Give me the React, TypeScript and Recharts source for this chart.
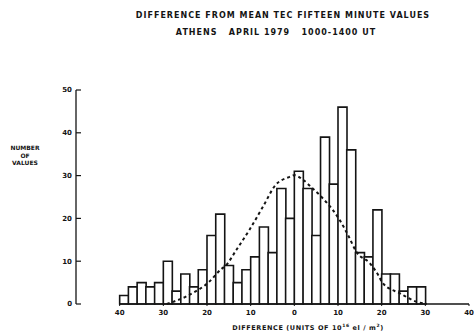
import { Bar, ComposedChart, Line, ReferenceLine, XAxis, YAxis } from "recharts";

// histogram bins (start of each 2-unit bin), -50..38 so the hidden band axis lines up with the numeric one
const binStarts = [
  -50, -48, -46, -44, -42, -40, -38, -36, -34, -32, -30, -28, -26, -24, -22,
  -20, -18, -16, -14, -12, -10, -8, -6, -4, -2, 0, 2, 4, 6, 8, 10, 12, 14, 16,
  18, 20, 22, 24, 26, 28, 30, 32, 34, 36, 38
];
const counts = [
  null, null, null, null, null,
  2, 4, 5, 4, 5, 10, 3, 7, 4, 8,
  16, 21, 9, 5, 8, 11, 18, 12, 27, 20,
  31, 27, 16, 39, 28, 46, 36, 12, 11, 22,
  7, 7, 3, 4, 4,
  null, null, null, null, null
];

// dashed fitted curve
const curveX = [
  -29.2, -24.1, -19.5, -16.8, -15.6, -13.3, -10.3, -7.2, -4.3, -1.1, 0, 2, 4.2,
  6.5, 8.8, 10.4, 12.3, 14.2, 17.3, 19.2, 20.3, 24.2, 28, 30.3
];
const curveY = [
  0, 2.1, 5.2, 8.1, 9.1, 12.6, 17.3, 22.7, 27.8, 29.7, 30.1, 29, 27, 24.7, 22,
  19.6, 16.1, 12.2, 9.5, 6.8, 4.8, 2.5, 0.5, 0
];

const xTicks = [-40, -30, -20, -10, 0, 10, 20, 30, 40];
const yTicks = [0, 10, 20, 30, 40, 50];

const ink = "#141414";
const font = "'DejaVu Sans', sans-serif";
const tickStyle = { fontSize: 7, fontWeight: 700, fill: ink, fontFamily: font };

export default function App() {
  const bins = binStarts.map((start, i) => ({ start, count: counts[i] }));
  const curve = curveX.map((x, i) => ({ x, y: curveY[i] }));

  return (
    <div
      style={{
        position: "absolute",
        left: 0,
        top: 0,
        width: 474,
        height: 335,
        background: "#fff",
        fontFamily: font,
        fontWeight: 700,
        color: ink
      }}
    >
      <div
        style={{
          position: "absolute",
          left: 83,
          width: 400,
          top: 12,
          textAlign: "center",
          fontSize: 8,
          lineHeight: "8px",
          letterSpacing: 1,
          whiteSpace: "pre"
        }}
      >
        DIFFERENCE FROM MEAN TEC FIFTEEN MINUTE VALUES
      </div>
      <div
        style={{
          position: "absolute",
          left: 76,
          width: 400,
          top: 29,
          textAlign: "center",
          fontSize: 8,
          lineHeight: "8px",
          letterSpacing: 1,
          whiteSpace: "pre"
        }}
      >
        {"ATHENS   APRIL 1979   1000-1400 UT"}
      </div>
      <div
        style={{
          position: "absolute",
          left: 0,
          width: 50,
          top: 144,
          textAlign: "center",
          fontSize: 6,
          lineHeight: "7.5px"
        }}
      >
        NUMBER
        <br />
        OF
        <br />
        VALUES
      </div>
      <div
        style={{
          position: "absolute",
          left: 158,
          width: 300,
          top: 322,
          textAlign: "center",
          fontSize: 6.5,
          lineHeight: "7px",
          letterSpacing: 0.6,
          whiteSpace: "pre"
        }}
      >
        DIFFERENCE (UNITS OF 10<sup style={{ fontSize: 4.5 }}>16</sup> el / m
        <sup style={{ fontSize: 4.5 }}>2</sup>)
      </div>

      <ComposedChart
        width={474}
        height={335}
        data={bins}
        barCategoryGap={0}
        barGap={0}
        margin={{ top: 90, right: 5, bottom: 11, left: 0 }}
      >
        <XAxis xAxisId="bins" dataKey="start" type="category" hide height={0} />
        <XAxis
          xAxisId="num"
          dataKey="x"
          type="number"
          domain={[-50, 40]}
          allowDataOverflow
          ticks={xTicks}
          tickFormatter={(v: number) => String(Math.abs(v))}
          axisLine={false}
          tickLine={{ stroke: ink, strokeWidth: 1 }}
          tickSize={2}
          tickMargin={4}
          height={20}
          tick={tickStyle}
        />
        <YAxis
          domain={[0, 50]}
          ticks={yTicks}
          width={76}
          axisLine={{ stroke: ink, strokeWidth: 1.3 }}
          tickLine={{ stroke: ink, strokeWidth: 1.2 }}
          tickSize={-5}
          tickMargin={9}
          tick={tickStyle}
        />
        <ReferenceLine
          xAxisId="num"
          segment={[
            { x: -40, y: 0 },
            { x: 40, y: 0 }
          ]}
          stroke={ink}
          strokeWidth={1.3}
        />
        <Bar
          xAxisId="bins"
          dataKey="count"
          fill="#fff"
          stroke={ink}
          strokeWidth={1.6}
          isAnimationActive={false}
        />
        <Line
          xAxisId="num"
          data={curve}
          dataKey="y"
          type="monotone"
          stroke={ink}
          strokeWidth={2}
          strokeDasharray="3 3"
          dot={false}
          activeDot={false}
          isAnimationActive={false}
        />
      </ComposedChart>
    </div>
  );
}
